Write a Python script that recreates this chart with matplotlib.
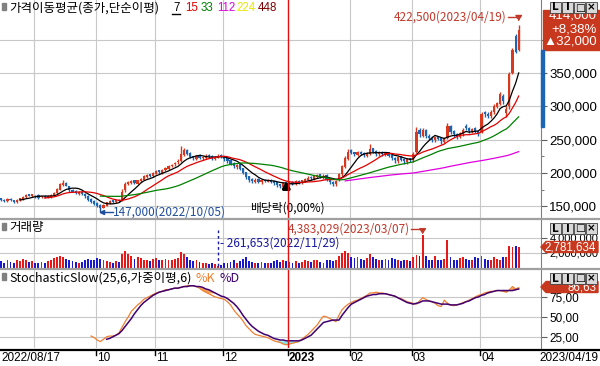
import numpy as np
import pandas as pd
import matplotlib
matplotlib.use("Agg")
import matplotlib.pyplot as plt
from matplotlib.lines import Line2D
from matplotlib.patches import Rectangle, Polygon

plt.rcParams['font.family'] = ['Noto Sans CJK KR', 'DejaVu Sans']

W, H = 600, 366

# 가격 (천원 단위), 2022/08/17 ~ 2023/04/19 일봉
opens = [162,160,158,161,159,156,159,
         161,164,168,165,166,167,164,166,163,164,
         166,170,175,182,185,
         180,175,173,169,172,
         169,165,161,158,
         155,152,148,
         151,155,159,156,160,
         159,
         174,184,185,189,184,188,
         190,194,198,195,199,204,200,204,
         206,211,213,216,
         218,227,235,
         230,225,221,226,222,
         223,227,226,221,223,227,
         225,222,219,215,209,
         213,207,201,
         195,191,187,191,186,190,187,190,188,
         186,183,179,
         186,
         182,187,183,188,185,
         188,190,194,191,194,198,193,
         197,191,187,183,
         189,198,209,221,
         234,231,227,232,230,226,
         229,237,233,228,232,227,231,
         227,223,218,225,221,217,222,
         219,
         232,265,256,
         265,256,253,249,255,
         252,247,
         253,271,
         263,259,254,
         259,270,268,262,
         268,263,
         262,
         291,289,285,291,
         299,304,316,290,
         300,350,405,385]
highs = [163,161,162,162,160,161,163,
         165,168,169,169,167,168,166,167,167,168,
         171,178,185,189,186,
         181,176,174,173,173,
         170,167,162,159,
         156,153,153,
         157,159,160,160,161,
         176,
         186,188,190,190,190,193,
         197,199,199,201,205,205,206,209,
         212,214,217,221,
         240,237,236,
         231,226,227,228,225,
         228,228,227,225,228,228,
         226,223,220,216,214,
         214,208,202,
         196,192,192,192,191,191,191,191,189,
         187,184,186,
         187,
         188,188,190,189,190,
         193,195,195,197,199,199,198,
         198,192,188,190,
         200,212,225,236,
         236,232,233,233,231,232,
         244,238,234,233,233,232,232,
         228,224,226,226,222,223,223,
         231,
         269,267,268,
         266,258,255,256,256,
         253,254,
         275,272,
         264,260,262,
         268,273,269,268,
         269,264,
         292,
         293,291,294,303,
         307,321,318,300,
         352,388,408,422.5]
lows = [158,157,157,158,155,155,158,
        160,163,165,164,163,161,162,162,162,163,
        165,169,174,181,180,
        172,171,168,167,167,
        163,158,155,152,
        149,147,147,
        150,154,155,155,156,
        158,
        172,182,184,183,183,186,
        189,193,194,194,198,199,199,203,
        205,209,211,214,
        216,225,227,
        222,220,219,221,220,
        221,223,220,219,222,222,
        218,215,212,207,206,
        204,198,191,
        186,185,185,185,184,186,186,185,182,
        179,177,178,
        180,
        181,182,182,184,183,
        187,189,190,189,192,192,191,
        188,183,180,181,
        188,196,207,219,
        228,225,225,227,224,224,
        227,230,226,226,226,225,224,
        219,215,215,218,214,214,216,
        217,
        230,254,254,
        252,249,247,247,249,
        244,245,
        251,259,
        254,251,252,
        256,264,260,260,
        260,256,
        260,
        284,282,283,289,
        297,302,304,284,
        296,348,380,383]
closes = [160,158,161,159,157,160,162,
          164,167,166,168,165,163,165,164,166,167,
          170,176,183,185,181,
          174,172,170,171,169,
          165,160,157,154,
          151,148,152,
          156,158,157,159,158,
          172,
          183,186,188,185,189,191,
          195,197,196,200,203,201,205,207,
          210,212,215,218,
          228,234,229,
          224,222,225,223,224,
          226,225,222,224,226,224,
          221,218,214,210,212,
          206,200,194,
          190,188,190,187,189,188,190,187,185,
          182,180,185,
          183,
          186,184,188,186,189,
          191,193,192,195,197,194,196,
          190,186,184,188,
          198,210,222,232,
          230,228,231,229,227,230,
          236,232,229,231,228,230,226,
          222,219,224,220,218,221,219,
          228,
          262,258,264,
          255,252,250,254,251,
          248,252,
          270,262,
          258,255,260,
          264,267,263,266,
          262,260,
          288,
          288,286,292,300,
          305,318,308,296,
          348,385,382,414]
# 거래량 (백만주)
volume_m = [0.9,0.7,1.1,0.8,0.6,1.0,0.9,1.2,1.0,0.8,0.9,0.7,0.6,0.8,0.7,0.9,1.0,
            1.3,1.5,1.6,1.4,1.2,
            1.0,0.9,0.8,0.7,0.8,
            1.0,1.2,1.1,1.0,1.3,1.2,1.1,
            0.9,0.8,0.7,0.9,0.8,
            1.8,2.2,1.9,1.6,1.2,1.4,1.3,
            1.1,1.0,0.9,1.2,1.3,1.0,1.1,1.2,1.0,1.1,1.2,1.3,
            2.1,1.8,1.4,
            1.0,0.9,1.1,0.8,0.7,0.6,0.5,0.6,0.5,0.261653,0.4,
            0.6,0.7,0.8,1.0,0.7,0.9,1.2,1.4,
            0.9,0.8,0.7,0.6,0.8,0.7,0.6,0.7,0.9,1.0,0.8,1.1,0.9,
            0.8,0.7,0.9,0.7,0.8,1.0,0.9,0.8,1.1,1.0,0.8,0.7,1.0,1.1,0.9,1.0,
            1.6,2.0,2.3,2.0,
            1.5,1.3,1.4,1.2,1.1,1.3,1.8,1.4,1.2,1.0,1.1,1.2,1.0,1.3,1.2,1.0,0.9,1.0,1.1,0.9,1.4,
            1.7,1.6,4.383029,
            1.6,1.1,1.1,1.6,1.1,1.0,1.2,
            3.7,1.5,
            1.1,1.0,1.3,1.5,1.2,1.0,1.1,1.5,1.3,
            1.6,1.2,1.1,1.0,1.5,1.2,1.1,1.4,1.5,
            2.9,2.8,2.9,2.781634]
# StochasticSlow %K (29번째 봉부터), %D (34번째 봉부터)
slow_k = [26,24,21,19,22,25,26,26,27,30,37,44,50,57,61,65,68,72,74,76,78,80,81,82,84,
          84,85,86,86,87,88,89,89,89,88,86,83,81,79,77,75,74,73,72,69,65,59,54,50,45,
          39,35,31,28,27,26,25,24,22,20,19,18,16,15,16,17,18,19,22,25,28,32,36,40,46,
          51,50,48,46,44,52,59,63,66,68,70,71,73,75,77,80,80,81,80,80,79,78,77,76,74,
          73,71,69,68,67,66,70,74,72,70,69,67,64,63,71,67,65,64,65,66,68,69,71,73,75,
          77,78,80,81,82,82,83,83,82,81,84,88,85,86.63]
slow_d = [22,23,25,27,29,33,38,43,48,54,59,64,68,71,74,77,79,81,82,83,84,85,86,86,87,
          88,88,89,89,88,88,87,85,84,82,80,78,76,75,73,70,67,63,58,52,47,42,38,35,32,
          30,28,27,25,23,22,21,21,20,20,20,20,20,21,23,25,27,31,35,39,43,44,45,46,46,
          46,52,57,62,66,68,70,72,74,76,77,78,78,79,79,79,78,77,76,74,72,70,68,67,66,
          67,68,70,70,70,69,68,67,66,66,66,65,65,65,66,67,69,70,72,74,75,77,78,80,81,
          82,83,83,83,83,83,83,84,85]
holidays = ['2022-09-09', '2022-09-12', '2022-10-03', '2022-10-10', '2022-12-30',
            '2023-01-23', '2023-01-24', '2023-03-01']
ma_periods = [7, 15, 33, 112, 224, 448]
ma_colors = ['black', '#e00000', '#008000', '#e000e0', '#e8e800', '#800000']

dates = pd.bdate_range('2022-08-17', '2023-04-19')
dates = dates[~dates.isin(pd.to_datetime(holidays))]
df = pd.DataFrame({'o': opens, 'h': highs, 'l': lows, 'c': closes, 'v': volume_m}, index=dates)
n = len(df)
x = np.arange(n)
up = df['c'] >= df['o']

mas = [df['c'].rolling(p).mean() for p in ma_periods]
k_x = np.arange(n - len(slow_k), n)
d_x = np.arange(n - len(slow_d), n)
k_arr = np.array(slow_k, float)
d_arr = np.array(slow_d, float)
k_on_d = k_arr[len(slow_k) - len(slow_d):]

month_idx = [i for i in range(1, n) if dates[i].month != dates[i - 1].month]

fig = plt.figure(figsize=(6, 3.66), dpi=100)
fig.patch.set_facecolor('white')

def add_ax(x0, y0, x1, y1):
    return fig.add_axes([x0 / W, 1 - y1 / H, (x1 - x0) / W, (y1 - y0) / H])

def fx(px):
    return px / W

def fy(py):
    return 1 - py / H

ax_p = add_ax(0, 0, 541, 218)
ax_v = add_ax(0, 219, 541, 268)
ax_s = add_ax(0, 269, 541, 348)
numfont = ['Liberation Sans', 'DejaVu Sans']

for ax in (ax_p, ax_v, ax_s):
    ax.set_xlim(-0.4, 174.2)
    ax.set_facecolor('white')
    for s in ('top', 'left', 'bottom'):
        ax.spines[s].set_visible(False)
    ax.spines['right'].set_color('#808080')
    ax.set_xticks([])
    ax.yaxis.tick_right()
    ax.tick_params(axis='y', length=4, color='#606060', pad=2)
    ax.tick_params(axis='y', which='minor', length=2, color='#606060')
    for m in month_idx:
        ax.axvline(m - 0.45, color='#c8c8c8', lw=0.8, zorder=0)
    ax.axvline(92.6, color='#e01010', lw=1, zorder=5)

# 가격 패널
ax_p.set_ylim(132.5, 459.5)
price_ticks = [150, 200, 250, 300, 350, 400]
for lvl in price_ticks:
    ax_p.axhline(lvl, color='#c8c8c8', lw=0.8, zorder=0)
ax_p.set_yticks(price_ticks)
ax_p.set_yticklabels(['{:,}'.format(v * 1000) for v in price_ticks], family=numfont, fontsize=9.5)
ax_p.set_yticks([175, 225, 275, 325, 375], minor=True)

cu, cd = '#d8381e', '#1c64b4'
for i in x:
    col = cu if up.iloc[i] else cd
    ax_p.vlines(i, df['l'].iloc[i], df['h'].iloc[i], color=col, lw=1, zorder=2)
    lo = min(df['o'].iloc[i], df['c'].iloc[i])
    hgt = max(abs(df['c'].iloc[i] - df['o'].iloc[i]), 0.6)
    ax_p.bar(i, hgt, bottom=lo, width=0.7, color=col, lw=0, zorder=2)
for ma, col in zip(mas, ma_colors):
    ax_p.plot(x, ma, color=col, lw=0.9, zorder=3)

ax_p.annotate('', xy=(92.0, 192), xytext=(92.0, 172),
              arrowprops=dict(arrowstyle='-|>,head_width=0.2,head_length=0.35', color='black', lw=2.4))
ax_p.text(92.3, 148, '배당락(0,00%)', fontsize=8.5, ha='center', va='center', color='black')

ax_p.plot([32, 32, 36], [147, 142, 142], color='#1f4e9c', lw=1)
ax_p.plot([32.4], [142], marker='<', ms=3, color='#1f4e9c')
ax_p.text(36, 142, '147,000(2022/10/05)', fontsize=8.5, ha='left', va='center', color='#1f4e9c')

ax_p.plot([163.4, 167], [434, 434], color='#c0392b', lw=1)
ax_p.annotate('', xy=(167, 424), xytext=(167, 434.5),
              arrowprops=dict(arrowstyle='-|>,head_width=0.2,head_length=0.3', color='#c0392b', lw=1))
ax_p.text(163.2, 434, '422,500(2023/04/19)', fontsize=8.5, ha='right', va='center', color='#c0392b')

# 거래량 패널
ax_v.set_ylim(0, 6.5)
for lvl in [2, 4]:
    ax_v.axhline(lvl, color='#c8c8c8', lw=0.8, zorder=0)
ax_v.set_yticks([2, 4])
ax_v.set_yticklabels(['2,000,000', '4,000,000'], family=numfont, fontsize=8)
ax_v.bar(x, df['v'], width=0.6, color=np.where(up, '#e81818', '#1818d0'), lw=0, zorder=2)
ax_v.vlines(70, 0.3, 5.0, color='#1818a0', lw=1, linestyles=(0, (2, 2)), zorder=3)
ax_v.text(70.5, 3.3, '- 261,653(2022/11/29)', fontsize=8.5, ha='left', va='center', color='#1818a0')
ax_v.plot([132.2, 136], [5.17, 5.17], color='#c0392b', lw=1)
ax_v.annotate('', xy=(136, 4.5), xytext=(136, 5.2),
              arrowprops=dict(arrowstyle='-|>,head_width=0.2,head_length=0.3', color='#c0392b', lw=1))
ax_v.text(132.0, 5.17, '4,383,029(2023/03/07)', fontsize=8.5, ha='right', va='center', color='#c0392b')

# 스토캐스틱 패널
ax_s.set_ylim(11, 110)
for lvl in [25, 50, 75]:
    ax_s.axhline(lvl, color='#c8c8c8', lw=0.8, zorder=0)
ax_s.set_yticks([25, 50, 75])
ax_s.set_yticklabels(['25,00', '50,00', '75,00'], family=numfont, fontsize=8.5)
ax_s.fill_between(d_x, np.maximum(k_on_d, 80), np.maximum(d_arr, 80), color='#f5a05a', lw=0, zorder=1)
ax_s.fill_between(d_x, np.minimum(k_on_d, 20), np.minimum(d_arr, 20), color='#80e8e8', lw=0, zorder=1)
ax_s.plot(k_x, k_arr, color='#f08030', lw=0.9, zorder=2)
ax_s.plot(d_x, d_arr, color='#400070', lw=1.1, zorder=2)

# 날짜 축
ax_d = add_ax(0, 349, 600, 366)
ax_d.set_xlim(0, 600)
ax_d.set_ylim(366, 349)
ax_d.axis('off')
fig.add_artist(Line2D([0, 1], [fy(349.5)] * 2, color='black', lw=1.6))
xpx = lambda i: (i + 0.4) * 541 / 174.6
ax_d.text(1, 358, '2022/08/17', fontsize=8.5, va='center', ha='left', family=numfont)
ax_d.text(598, 358, '2023/04/19', fontsize=8.5, va='center', ha='right', family=numfont)
for m in month_idx:
    d = dates[m]
    if d.month == 9:
        continue
    px = xpx(m - 0.45)
    ax_d.plot([px, px], [350, 355], color='black', lw=1)
    if d.month == 1:
        ax_d.text(px + 1, 358, str(d.year), fontsize=8.5, va='center', ha='left',
                  fontweight='bold', family=numfont)
    else:
        ax_d.text(px + 1, 358, '{:02d}'.format(d.month), fontsize=8.5, va='center', ha='left',
                  family=numfont)

# 패널 구분선
for py in (218.5, 268.5):
    fig.add_artist(Line2D([0, 1], [fy(py)] * 2, color='#a0a0a0', lw=1.6))

# 제목
def icon(py):
    fig.add_artist(Rectangle((fx(2), fy(py + 7)), 4 / W, 7 / H, color='#808080', zorder=6))

icon(3)
fig.text(fx(9), fy(8), '가격이동평균(종가,단순이평)', fontsize=9, va='center', ha='left')
for label, col, px in zip(['7', '15', '33', '112', '224', '448'], ma_colors,
                          [173, 185, 201, 217, 236, 258]):
    fig.text(fx(px), fy(8), label, fontsize=8.3, va='center', ha='left', color=col, family=numfont)
fig.add_artist(Line2D([fx(172), fx(180)], [fy(14)] * 2, color='black', lw=1))
icon(223)
fig.text(fx(9), fy(228), '거래량', fontsize=9, va='center', ha='left')
icon(273)
fig.text(fx(9), fy(278), 'StochasticSlow(25,6,가중이평,6)', fontsize=9, va='center', ha='left')
fig.text(fx(196), fy(278), '%K', fontsize=9, va='center', ha='left', color='#f08030')
fig.text(fx(219), fy(278), '%D', fontsize=9, va='center', ha='left', color='#400070')

# 오른쪽 현재값 표시
red = '#c8381e'
fig.add_artist(Rectangle((fx(543), fy(50)), 57 / W, 40 / H, color=red, zorder=6))
fig.add_artist(Rectangle((fx(541), fy(127)), 2.5 / W, 77 / H, color='#1c64b4', zorder=6))
for py, t in [(16, '414,000'), (29, '+8,38%'), (42, '▲32,000')]:
    fig.text(fx(597), fy(py), t, fontsize=9.5, color='white', ha='right', va='center',
             family=numfont, zorder=7)

def tag(py, t):
    pts = [(fx(541), fy(py)), (fx(546), fy(py - 5.5)), (fx(598), fy(py - 5.5)),
           (fx(598), fy(py + 5.5)), (fx(546), fy(py + 5.5))]
    fig.add_artist(Polygon(pts, closed=True, color=red, zorder=6))
    fig.text(fx(596), fy(py), t, fontsize=8.3, color='white', ha='right', va='center',
             family=numfont, zorder=7)

tag(247, '2,781,634')
tag(287, '86,63')

# 버튼
def buttons(py):
    for k, s in enumerate(['L', 'I', '□', '×']):
        bx = 550 + k * 12
        fig.add_artist(Rectangle((fx(bx), fy(py + 11)), 11 / W, 11 / H, facecolor='#d8d8d8',
                                 edgecolor='#404040', lw=0.6, zorder=8))
        fig.text(fx(bx + 5.5), fy(py + 5.5), s, fontsize=7.5, ha='center', va='center',
                 fontweight='bold', zorder=9, family=['DejaVu Sans'])

buttons(2)
buttons(223)
buttons(273)

fig.savefig('out.png', dpi=100)
